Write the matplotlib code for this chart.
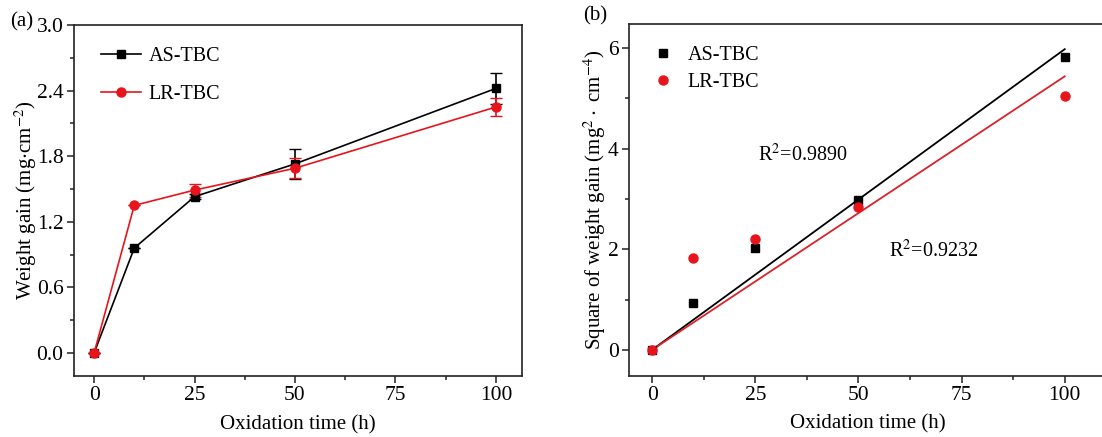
import numpy as np
import matplotlib
matplotlib.use('Agg')
import matplotlib.pyplot as plt
from matplotlib.ticker import MultipleLocator

plt.rcParams['font.family'] = ['Liberation Serif', 'DejaVu Serif']
plt.rcParams['mathtext.fontset'] = 'stix'

# oxidation times (h)
time = [0, 10, 25, 50, 100]

# weight gain (mg/cm2) and error
as_gain = [0.0, 0.96, 1.43, 1.73, 2.42]
as_err = [0.0, 0.0, 0.02, 0.14, 0.14]
lr_gain = [0.0, 1.35, 1.49, 1.69, 2.25]
lr_err = [0.0, 0.0, 0.06, 0.09, 0.085]

# square of weight gain (mg2/cm4)
as_sq = [0.0, 0.93, 2.02, 2.98, 5.82]
lr_sq = [0.0, 1.83, 2.20, 2.84, 5.04]

r2_labels = ['R$^2$=0.9890', 'R$^2$=0.9232']

W, H = 1102, 437
fig = plt.figure(figsize=(W / 100, H / 100), dpi=100)


def box(l, t, r, b):
    return [l / W, 1 - b / H, (r - l) / W, (b - t) / H]


def style(ax):
    for s in ax.spines.values():
        s.set_linewidth(1.2)
        s.set_color('#222222')
    ax.tick_params(which='both', direction='out', top=False, right=False,
                   labelsize=15.5, width=1.1, color='#222222', pad=2.5)
    ax.tick_params(which='major', length=5)
    ax.tick_params(which='minor', length=3)
    ax.xaxis.set_major_locator(MultipleLocator(25))
    ax.xaxis.set_minor_locator(MultipleLocator(12.5))


# (a) weight gain curves
ax1 = fig.add_axes(box(74, 25, 522, 376))
ax1.errorbar(time, as_gain, yerr=as_err, color='black', marker='s', ms=6,
             lw=1.2, capsize=4, elinewidth=1.2, label='AS-TBC')
ax1.errorbar(time, lr_gain, yerr=lr_err, color='#e8141b', marker='o', ms=6.5,
             lw=1.2, capsize=4, elinewidth=1.2, label='LR-TBC')
ax1.set_xlim(-5, 106.5)
ax1.set_ylim(-0.21, 3.0)
ax1.yaxis.set_major_locator(MultipleLocator(0.6))
ax1.yaxis.set_minor_locator(MultipleLocator(0.3))
ax1.yaxis.set_major_formatter(plt.FormatStrFormatter('%.1f'))
style(ax1)
ax1.set_xlabel('Oxidation time (h)', fontsize=15, labelpad=7)
ax1.set_ylabel('Weight gain (mg$\\cdot$cm$^{-2}$)', fontsize=15, labelpad=-2)
h, l = ax1.get_legend_handles_labels()
ax1.legend([x[0] for x in h], l, loc='upper left', bbox_to_anchor=(0.02, 0.99),
           frameon=False, fontsize=14.5, handlelength=2.0, labelspacing=0.95,
           handletextpad=0.35)
fig.text(10 / W, 1 - 22 / H, '(a)', fontsize=15, va='center')

# (b) parabolic fit through the origin
ax2 = fig.add_axes(box(629, 24, 1106, 376))
t = np.array(time, dtype=float)
xs = np.array([0, 100])
for ys, c in [(as_sq, 'black'), (lr_sq, '#d8232a')]:
    k = np.sum(t * np.array(ys)) / np.sum(t * t)
    ax2.plot(xs, k * xs, color=c, lw=1.3)
ax2.plot(time, as_sq, 's', color='black', ms=6, ls='none', label='AS-TBC')
ax2.plot(time, lr_sq, 'o', color='#e8141b', ms=6.5, ls='none', label='LR-TBC')
ax2.set_xlim(-5.6, 110)
ax2.set_ylim(-0.52, 6.48)
ax2.yaxis.set_major_locator(MultipleLocator(2))
ax2.yaxis.set_minor_locator(MultipleLocator(1))
style(ax2)
ax2.set_xlabel('Oxidation time (h)', fontsize=15, labelpad=6)
ax2.set_ylabel('Square of weight gain (mg$^2\\cdot$ cm$^{-4}$)', fontsize=15,
               labelpad=0)
ax2.legend(loc='upper left', bbox_to_anchor=(0.0, 0.99), frameon=False,
           fontsize=14.5, handlelength=1.6, labelspacing=0.4, handletextpad=0.4)
ax2.text(25.7, 3.87, r2_labels[0], fontsize=14.5, va='center')
ax2.text(57.5, 1.96, r2_labels[1], fontsize=14.5, va='center')
fig.text(583 / W, 1 - 16 / H, '(b)', fontsize=15, va='center')

fig.savefig('out.png', dpi=100, facecolor='white')
